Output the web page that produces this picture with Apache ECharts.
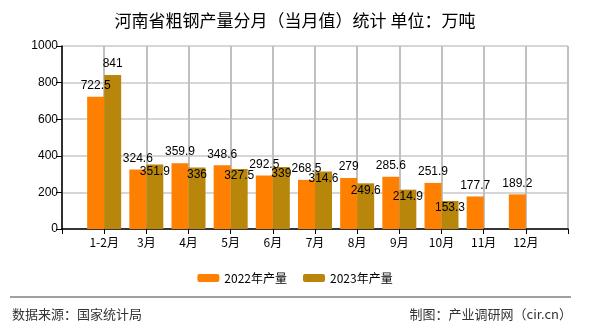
<!DOCTYPE html>
<html>
<head>
<meta charset="utf-8">
<script src="https://cdn.jsdelivr.net/npm/echarts@6/dist/echarts.min.js"></script>
<style>html,body{margin:0;padding:0;background:#fff;}#c{width:590px;height:330px;}</style>
</head>
<body>
<div id="c"></div>
<script>
const titleText = '河南省粗钢产量分月（当月值）统计 单位：万吨';
const categories = ['1-2月','3月','4月','5月','6月','7月','8月','9月','10月','11月','12月'];
const seriesNames = ['2022年产量','2023年产量'];
const values2022 = [722.5,324.6,359.9,348.6,292.5,268.5,279,285.6,251.9,177.7,189.2];
const values2023 = [841,351.9,336,327.5,339,314.6,249.6,214.9,153.3,null,null];
const yTicks = [0,200,400,600,800,1000];
const sourceText = '数据来源：国家统计局';
const creditText = '制图：产业调研网（cir.cn）';

// pad with empty slots at both ends so labels sit on ticks inside the frame
const cats = [''].concat(categories, ['']);
const d22 = [null].concat(values2022, [null]);
const d23 = [null].concat(values2023, [null]).map((v, i) => {
  if (v === null) return null;
  if (i === 1) return { value: v, label: { position: 'top', distance: 5 } };
  return v;
});

const chart = echarts.init(document.getElementById('c'));
const lblFont = { fontFamily: 'Liberation Sans', fontSize: 12, color: '#000' };
const gridColor = '#c8c8c8';
chart.setOption({
  animation: false,
  backgroundColor: '#fff',
  title: {
    text: titleText, left: 'center', top: 7,
    textStyle: { fontFamily: 'Noto Sans CJK SC', fontSize: 17, fontWeight: 'normal', color: '#000' }
  },
  legend: {
    data: seriesNames, left: 'center', top: 267,
    itemWidth: 22, itemHeight: 8, itemGap: 16,
    textStyle: { fontFamily: 'Noto Sans CJK SC', fontSize: 12, color: '#000' }
  },
  grid: { left: 62, right: 22, top: 46, bottom: 101, containLabel: false },
  xAxis: {
    type: 'category', data: cats, boundaryGap: false,
    axisLine: { lineStyle: { color: '#000', width: 1.5 } },
    axisTick: { show: true, length: 5, interval: 0, lineStyle: { color: '#000' } },
    axisLabel: { interval: 0, margin: 7, fontFamily: 'Noto Sans CJK SC', fontSize: 12, color: '#000' },
    splitLine: { show: true, interval: 0, lineStyle: { color: '#c0c0c0', width: 2 } }
  },
  yAxis: {
    type: 'value', min: yTicks[0], max: yTicks[yTicks.length - 1], interval: 200,
    axisLine: { show: true, lineStyle: { color: '#000', width: 1.5 } },
    axisTick: { show: true, length: 6, lineStyle: { color: '#000' } },
    axisLabel: { margin: 4, fontFamily: 'Liberation Sans', fontSize: 12, color: '#000', formatter: v => String(v) },
    splitLine: { show: true, lineStyle: { color: gridColor, width: 1.5 } }
  },
  series: [
    {
      name: seriesNames[0], type: 'bar', data: d22, barWidth: 17, barGap: '0%',
      itemStyle: { color: '#FF8000' },
      label: Object.assign({ show: true, position: 'top', distance: 5 }, lblFont)
    },
    {
      name: seriesNames[1], type: 'bar', data: d23, barWidth: 17, barGap: '0%',
      itemStyle: { color: '#B8860B' },
      label: Object.assign({ show: true, position: 'insideTop', distance: 1 }, lblFont)
    }
  ],
  graphic: [
    { type: 'line', shape: { x1: 10, y1: 297, x2: 571, y2: 297 }, style: { stroke: '#808080', lineWidth: 1.5 } },
    { type: 'text', left: 12, top: 308, style: { text: sourceText, font: '13px "Noto Sans CJK SC"', fill: '#333' } },
    { type: 'text', right: 18, top: 308, style: { text: creditText, font: '13px "Noto Sans CJK SC"', fill: '#333' } }
  ]
});
</script>
</body>
</html>
